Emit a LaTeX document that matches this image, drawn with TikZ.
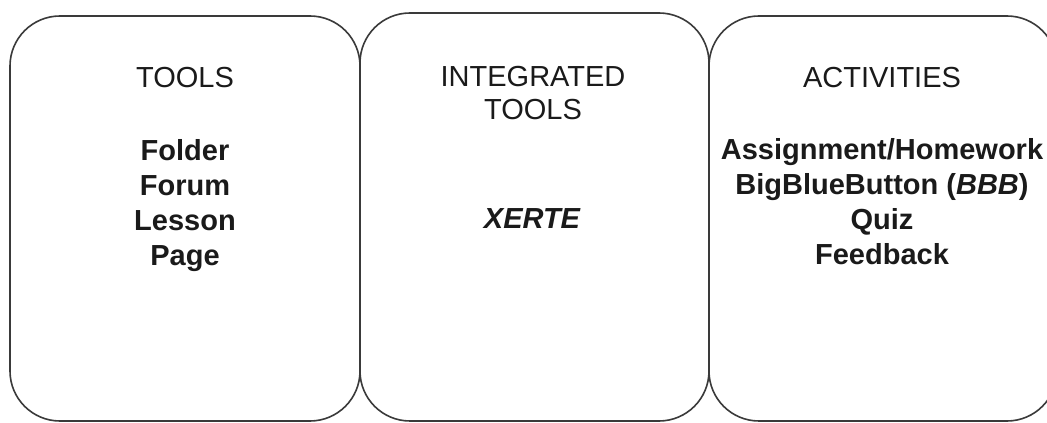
\documentclass[tikz,border=0pt]{standalone}
\usepackage{fontspec}
\setmainfont{Liberation Sans}
\definecolor{edge}{HTML}{3A3A3A}
\definecolor{ink}{HTML}{1A1A1A}
\begin{document}
\begin{tikzpicture}[x=1pt,y=1pt,
  panel/.style={draw=edge, line width=1.6pt, rounded corners=50pt, inner sep=0pt},
  head/.style={anchor=north, inner sep=0pt, align=center, text=ink, font=\fontsize{29}{33}\selectfont},
  body/.style={anchor=north, inner sep=0pt, align=center, text=ink, font=\fontsize{29}{35}\selectfont\bfseries}]
\useasboundingbox (0,0) rectangle (1047,423);
\clip (0,0) rectangle (1047,423);
\fill[white] (0,0) rectangle (1047,423);
% panels
\node[panel, minimum width=350pt, minimum height=405pt] (p1) at (185,204.5) {};
\node[panel, minimum width=349pt, minimum height=408pt] (p2) at (534.5,206) {};
\node[panel, minimum width=348pt, minimum height=405pt] (p3) at (883,204.5) {};
% titles
\node[head] (t1) at (185,356) {TOOLS};
\node[head] (t2) at (533,357) {INTEGRATED\\TOOLS};
\node[head] (t3) at (882,356) {ACTIVITIES};
% contents
\node[body] (c1) at (185,284) {Folder\\Forum\\Lesson\\Page};
\node[body] (c2) at (532,215) {\itshape XERTE};
\node[body] (c3) at (882,285) {Assignment/Homework\\BigBlueButton (\textit{BBB})\\Quiz\\Feedback};
\end{tikzpicture}
\end{document}
